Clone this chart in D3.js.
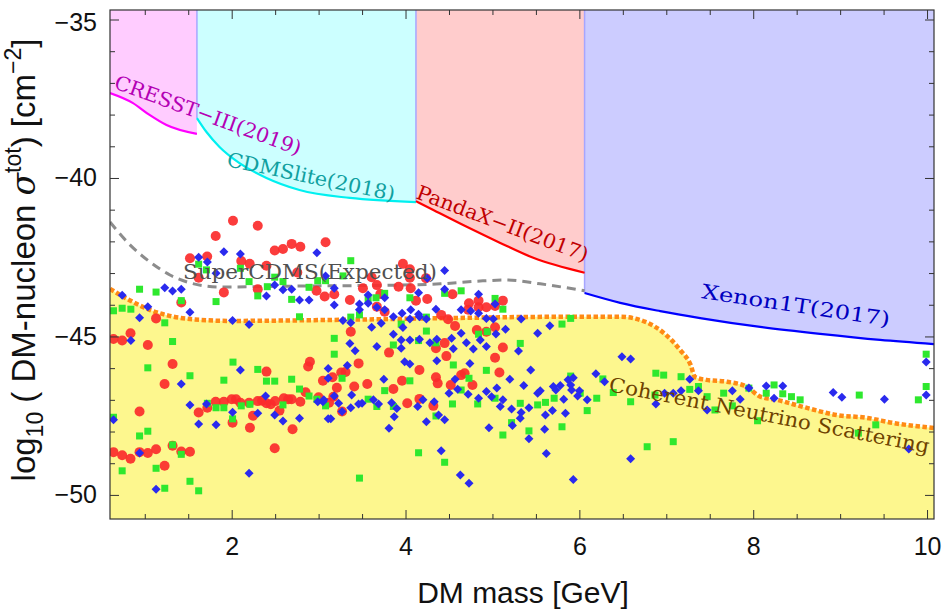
<!DOCTYPE html>
<html>
<head>
<meta charset="utf-8" />
<script src="https://cdn.jsdelivr.net/npm/d3@7"></script>
<style>
  body { margin: 0; background: #fff; }
  .tick text { font-family: "Liberation Sans", Arial, sans-serif; font-size: 25px; fill: #111; }
  .tick line { stroke: #333; }
  .note { font-family: "DejaVu Serif", serif; font-size: 20px; }
</style>
</head>
<body>
<svg id="chart" width="946" height="613"></svg>
<script>
// ---- data ----
var cresstX = [0.6, 0.86, 1.055, 1.25, 1.6];
var cresstY = [-37.32, -37.63, -38.01, -38.33, -38.61];
var cdmsliteX = [1.6, 1.71, 1.86, 2.09, 2.40, 2.78, 3.36, 4.12];
var cdmsliteY = [-38.11, -38.55, -39.02, -39.53, -40.0, -40.38, -40.63, -40.76];
var pandaX = [4.12, 4.32, 4.71, 5.09, 5.47, 6.06];
var pandaY = [-40.73, -41.01, -41.55, -42.05, -42.52, -42.99];
var xenonX = [6.06, 6.47, 6.93, 7.39, 8.08, 8.77, 9.46, 10.08];
var xenonY = [-43.63, -43.94, -44.20, -44.42, -44.70, -44.92, -45.11, -45.24];
var superX = [0.6, 0.83, 1.06, 1.29, 1.52, 1.86, 2.78, 3.94, 4.40, 4.86, 5.17, 5.55, 6.06];
var superY = [-41.39, -42.11, -42.65, -43.06, -43.31, -43.44, -43.41, -43.38, -43.34, -43.25, -43.22, -43.34, -43.56];
var nuX = [0.6, 0.82, 1.055, 1.285, 1.52, 1.98, 3.13, 4.51, 5.78, 6.47, 6.76, 6.97, 7.16, 7.28, 7.33, 7.46, 7.70, 7.93, 8.08, 8.27, 8.57, 8.96, 9.31, 9.61, 10.08];
var nuY = [-43.50, -43.85, -44.16, -44.35, -44.45, -44.51, -44.48, -44.42, -44.38, -44.38, -44.54, -44.89, -45.43, -45.90, -46.28, -46.37, -46.43, -46.59, -46.90, -47.0, -47.22, -47.48, -47.57, -47.73, -47.89];

var redPts = [
 [2.015,-41.35],[2.30,-41.51],[1.816,-41.83],[1.52,-42.53],[1.718,-42.48],[2.11,-42.62],[2.207,-42.71],[2.40,-42.77],
 [2.495,-42.29],[2.59,-42.24],[2.69,-42.08],[2.79,-42.17],[3.08,-42.03],[1.62,-43.15],[1.91,-43.61],[2.30,-43.51],
 [2.755,-42.98],[2.976,-43.56],[3.07,-43.74],[1.42,-43.93],[1.13,-44.43],[0.836,-44.90],[0.64,-45.08],[0.74,-45.13],
 [1.035,-45.27],[1.32,-45.87],[2.90,-45.80],[2.88,-45.95],[2.40,-46.11],[1.228,-46.50],[3.05,-46.40],[0.94,-47.37],
 [2.85,-46.76],[3.00,-46.92],[1.62,-47.40],[1.72,-47.25],[1.816,-47.06],[1.91,-47.06],[2.00,-46.98],[2.05,-46.98],
 [2.10,-47.09],[2.20,-47.09],[2.30,-47.04],[2.35,-47.03],[2.40,-47.11],[2.45,-47.14],[2.50,-47.04],[2.60,-46.95],
 [2.65,-46.98],[2.69,-46.98],[2.79,-47.06],[2.55,-47.34],[2.245,-47.50],[2.01,-47.72],[2.21,-47.88],[2.70,-47.93],
 [2.495,-48.53],[0.64,-48.65],[0.74,-48.75],[0.836,-48.86],[0.94,-48.65],[1.035,-48.68],[1.13,-48.56],[1.32,-48.45],
 [1.42,-48.63],[1.52,-48.64],[1.228,-49.08],[3.12,-47.09],[3.97,-42.71],[4.05,-42.88],[3.61,-43.13],[4.05,-43.15],
 [3.92,-43.43],[4.06,-43.48],[3.18,-43.67],[3.51,-43.48],[3.67,-43.38],[3.36,-43.85],[3.71,-43.66],[4.12,-43.87],
 [4.25,-43.82],[4.54,-43.67],[4.235,-43.16],[3.67,-44.06],[3.76,-44.22],[4.73,-43.95],[4.84,-43.87],[4.84,-44.08],
 [4.93,-44.08],[5.03,-44.04],[5.12,-43.87],[4.72,-44.16],[4.41,-44.32],[4.49,-44.46],[4.57,-44.67],[3.37,-44.85],
 [4.93,-44.85],[5.03,-44.71],[4.82,-44.80],[4.45,-45.21],[4.35,-45.37],[3.81,-45.51],[4.47,-45.62],[5.12,-45.35],
 [5.03,-45.67],[3.46,-45.85],[3.16,-46.29],[3.26,-46.14],[3.31,-46.12],[3.21,-46.62],[3.41,-46.58],[3.56,-46.50],
 [3.86,-46.66],[3.96,-46.40],[4.16,-46.06],[4.35,-46.29],[4.37,-46.48],[4.52,-46.53],[4.64,-46.22],[4.68,-46.16],
 [4.77,-46.53],[5.08,-46.14],[4.02,-47.11],[4.16,-46.97],[4.32,-47.19],[3.27,-47.37],[3.17,-46.90]
];
var greenPts = [
 [1.62,-42.72],[1.71,-42.90],[2.10,-42.85],[2.20,-43.27],[2.495,-43.13],[2.59,-43.27],[2.99,-43.24],[3.08,-43.24],
 [0.94,-43.51],[1.13,-43.60],[1.42,-43.87],[1.82,-43.90],[2.30,-43.72],[2.41,-43.43],[2.69,-43.83],[2.89,-43.45],
 [2.78,-44.38],[0.64,-44.19],[0.74,-44.11],[0.84,-44.14],[1.23,-44.57],[1.32,-45.16],[2.015,-45.81],[1.035,-45.99],
 [2.30,-46.04],[1.52,-46.24],[1.91,-46.38],[2.40,-46.41],[2.495,-46.41],[2.69,-46.35],[2.78,-46.66],[2.89,-46.88],
 [2.98,-46.98],[3.08,-47.19],[1.72,-47.11],[1.82,-47.25],[1.91,-47.25],[2.11,-47.19],[2.21,-47.14],[2.01,-47.60],
 [2.59,-47.16],[0.64,-47.55],[0.94,-48.14],[1.035,-47.99],[1.32,-48.42],[1.42,-48.72],[0.74,-49.24],[1.13,-49.16],
 [1.23,-49.79],[1.52,-49.57],[1.62,-49.87],[3.37,-42.61],[3.28,-43.09],[3.76,-43.64],[4.05,-43.78],[4.45,-43.64],
 [4.64,-43.56],[5.03,-43.80],[5.12,-44.14],[3.57,-43.83],[3.66,-43.78],[3.47,-44.32],[3.37,-44.39],[3.95,-44.61],
 [4.24,-44.39],[4.24,-44.83],[3.18,-45.06],[3.18,-45.56],[3.86,-45.27],[4.15,-45.13],[4.35,-45.20],[4.55,-45.90],
 [4.84,-44.93],[4.94,-44.85],[5.32,-45.22],[5.80,-44.61],[4.93,-46.07],[3.27,-46.32],[3.76,-46.71],[4.05,-46.40],
 [4.73,-46.32],[4.64,-46.69],[4.54,-47.13],[3.57,-46.98],[3.67,-47.21],[3.86,-47.21],[4.83,-47.13],[5.03,-46.95],
 [5.32,-47.11],[5.52,-47.16],[5.61,-47.08],[5.71,-46.95],[5.90,-46.25],[6.01,-46.79],[6.09,-47.34],[4.35,-47.51],
 [5.22,-47.72],[5.42,-47.98],[5.12,-48.11],[5.80,-47.85],[4.15,-48.67],[4.45,-48.97],[3.47,-49.47],[6.20,-46.95],
 [6.39,-46.77],[6.59,-47.06],[6.78,-48.48],[7.08,-48.32],[5.90,-44.43],[6.27,-46.34],[6.88,-46.16],[6.97,-46.22],
 [6.87,-46.85],[7.17,-46.27],[7.27,-46.67],[7.37,-46.58],[7.47,-46.90],[7.56,-47.32],[7.66,-46.79],[7.76,-47.19],
 [7.95,-46.63],[8.05,-47.66],[8.15,-46.79],[8.24,-46.53],[8.34,-46.81],[8.44,-46.90],[8.54,-47.00],[9.22,-46.85],
 [9.21,-48.05],[9.41,-47.79],[9.90,-47.00],[9.99,-46.58],[9.99,-45.56]
];
var bluePts = [
 [1.62,-42.50],[1.72,-42.65],[1.91,-42.33],[2.10,-42.40],[2.98,-42.36],[1.82,-43.01],[1.23,-43.46],[1.32,-43.57],
 [1.42,-43.51],[0.74,-43.70],[1.035,-44.06],[0.94,-44.41],[1.52,-44.24],[2.01,-44.50],[2.20,-44.62],[2.40,-43.72],
 [2.495,-43.38],[2.59,-43.53],[2.69,-43.51],[2.78,-43.85],[2.89,-43.85],[3.08,-43.09],[0.84,-45.13],[2.10,-46.06],
 [3.11,-46.01],[1.42,-46.50],[1.52,-47.16],[1.71,-47.13],[2.01,-47.39],[2.39,-46.88],[2.30,-47.42],[1.62,-47.76],
 [1.82,-47.79],[2.495,-47.48],[2.59,-47.67],[2.78,-47.58],[2.99,-47.06],[3.05,-47.06],[3.11,-46.32],[0.64,-47.63],
 [0.94,-48.68],[2.20,-49.32],[1.13,-49.82],[3.11,-47.60],[4.45,-42.92],[4.25,-43.16],[3.18,-43.48],[3.18,-44.01],
 [3.57,-43.69],[3.76,-43.78],[4.15,-43.62],[4.45,-43.51],[4.84,-43.67],[5.03,-43.98],[3.47,-43.98],[3.57,-43.95],
 [3.67,-44.08],[3.76,-44.16],[3.47,-44.16],[3.86,-44.38],[3.96,-44.27],[4.06,-44.16],[4.15,-44.30],[4.35,-44.14],
 [4.64,-44.16],[4.75,-44.20],[4.84,-44.27],[4.93,-44.43],[4.16,-44.38],[3.28,-44.50],[3.37,-44.57],[3.61,-44.71],
 [3.72,-44.58],[3.97,-44.72],[4.05,-44.45],[4.24,-44.45],[5.01,-44.45],[5.04,-44.92],[5.15,-44.77],[5.33,-44.45],
 [5.66,-44.66],[5.52,-44.90],[4.64,-44.90],[4.53,-45.06],[3.86,-44.93],[3.95,-45.11],[4.05,-45.11],[4.16,-45.09],
 [4.28,-45.20],[4.36,-45.09],[4.86,-45.11],[4.70,-45.20],[3.36,-45.22],[3.42,-45.45],[3.67,-45.32],[3.95,-45.37],
 [4.55,-45.39],[4.78,-45.40],[4.93,-45.32],[5.30,-45.46],[4.36,-45.77],[3.99,-45.80],[4.05,-45.87],[3.33,-45.92],
 [4.74,-45.85],[5.44,-46.06],[3.75,-46.35],[4.57,-46.35],[4.60,-46.67],[4.72,-46.82],[4.50,-46.79],[5.20,-46.35],
 [5.36,-46.55],[5.05,-46.63],[4.93,-46.74],[4.99,-46.90],[5.12,-47.00],[5.09,-47.21],[4.84,-46.95],[5.22,-47.29],
 [5.33,-47.40],[5.42,-47.25],[5.32,-47.58],[5.23,-47.81],[4.96,-47.88],[5.52,-46.79],[5.55,-46.71],[5.70,-46.58],
 [5.73,-46.69],[5.78,-46.55],[5.87,-46.37],[5.90,-46.53],[5.91,-46.69],[6.00,-46.71],[5.98,-46.88],[6.09,-47.00],
 [5.82,-46.98],[5.69,-47.34],[5.61,-47.48],[5.84,-47.42],[5.60,-47.93],[5.42,-48.23],[5.62,-48.69],[5.93,-49.51],
 [4.73,-49.63],[4.63,-49.37],[4.41,-48.61],[3.81,-47.90],[4.24,-47.69],[4.45,-47.63],[4.38,-47.48],[3.87,-47.53],
 [3.90,-47.27],[3.84,-47.09],[3.69,-47.13],[3.63,-47.00],[3.50,-47.11],[3.46,-47.13],[3.37,-47.25],[3.23,-47.11],
 [3.18,-46.88],[3.06,-47.00],[3.27,-47.37],[3.14,-47.60],[3.38,-46.85],[4.14,-47.21],[4.20,-47.00],[4.33,-47.06],
 [6.49,-45.64],[6.59,-45.71],[6.19,-46.18],[6.29,-46.43],[5.93,-46.30],[6.88,-47.13],[6.59,-48.86],[6.98,-46.79],
 [7.08,-46.79],[7.17,-46.71],[7.27,-46.35],[7.37,-46.71],[7.47,-47.32],[7.76,-46.71],[7.85,-46.98],[7.95,-46.63],
 [8.15,-46.56],[8.24,-46.95],[8.34,-46.56],[8.92,-46.77],[9.02,-46.92],[9.51,-46.98],[9.99,-45.81],[9.99,-46.85],
 [9.79,-48.55]
];

var xMajor = [2, 4, 6, 8, 10];
var yMajor = [-50, -45, -40, -35];
var labels = ["CRESST\u2212III(2019)", "CDMSlite(2018)", "PandaX\u2212II(2017)", "SuperCDMS(Expected)", "Xenon1T(2017)", "Coherent Neutrino Scattering"];

// ---- layout ----
var svg = d3.select("#chart");
var L = 110, R = 934, T = 10, B = 519;
var x = d3.scaleLinear().domain([0.6, 10.08]).range([L, R]);
var y = d3.scaleLinear().domain([-50.76, -34.7]).range([B, T]);

function zip(xs, ys) { return xs.map(function(v, i) { return [v, ys[i]]; }); }

svg.append("clipPath").attr("id", "plotclip")
  .append("rect").attr("x", L).attr("y", T).attr("width", R - L).attr("height", B - T);
var plot = svg.append("g").attr("clip-path", "url(#plotclip)");

var bands = [
  { pts: zip(cresstX, cresstY), fill: "#ffccff", line: "#ff00ff" },
  { pts: zip(cdmsliteX, cdmsliteY), fill: "#ccffff", line: "#00f0f0" },
  { pts: zip(pandaX, pandaY), fill: "#ffcccc", line: "#ff0000" },
  { pts: zip(xenonX, xenonY), fill: "#ccccff", line: "#0000ff" }
];

var bandArea = d3.area().curve(d3.curveMonotoneX)
  .x(function(d) { return x(d[0]); })
  .y0(y(-34.7)).y1(function(d) { return y(d[1]); });
var curveLine = d3.line().curve(d3.curveMonotoneX)
  .x(function(d) { return x(d[0]); }).y(function(d) { return y(d[1]); });

bands.forEach(function(b) {
  plot.append("path").attr("d", bandArea(b.pts)).attr("fill", b.fill);
});
// edges of the fills
bands.slice(1).forEach(function(b) {
  plot.append("line")
    .attr("x1", x(b.pts[0][0])).attr("x2", x(b.pts[0][0]))
    .attr("y1", T).attr("y2", y(b.pts[0][1]))
    .attr("stroke", "#a6a6ff").attr("stroke-width", 1.5);
});

// neutrino floor fill
var nuPts = zip(nuX, nuY);
plot.append("path")
  .attr("d", d3.area().curve(d3.curveMonotoneX)
    .x(function(d) { return x(d[0]); }).y0(B).y1(function(d) { return y(d[1]); })(nuPts))
  .attr("fill", "#fdf78e");

bands.forEach(function(b) {
  plot.append("path").attr("d", curveLine(b.pts))
    .attr("fill", "none").attr("stroke", b.line).attr("stroke-width", 2.2);
});

plot.append("path").attr("d", curveLine(zip(superX, superY)))
  .attr("fill", "none").attr("stroke", "#8c8c8c").attr("stroke-width", 3)
  .attr("stroke-dasharray", "9,6");

plot.append("path").attr("d", curveLine(nuPts))
  .attr("fill", "none").attr("stroke", "#ff8a14").attr("stroke-width", 4.5)
  .attr("stroke-dasharray", "4.5,2.5");

// scatter points
plot.selectAll(".red").data(redPts).enter().append("circle")
  .attr("class", "red")
  .attr("cx", function(d) { return x(d[0]); }).attr("cy", function(d) { return y(d[1]); })
  .attr("r", 5).attr("fill", "#fb2b2b").attr("fill-opacity", 0.92);

plot.selectAll(".green").data(greenPts).enter().append("rect")
  .attr("class", "green")
  .attr("x", function(d) { return x(d[0]) - 3.5; }).attr("y", function(d) { return y(d[1]) - 3.5; })
  .attr("width", 7).attr("height", 7).attr("fill", "#2ee82e");

var diamond = { draw: function(ctx, size) { var r = Math.sqrt(size) / 2;
  ctx.moveTo(0, -r); ctx.lineTo(r, 0); ctx.lineTo(0, r); ctx.lineTo(-r, 0); ctx.closePath(); } };
plot.selectAll(".blue").data(bluePts).enter().append("path")
  .attr("class", "blue")
  .attr("transform", function(d) { return "translate(" + x(d[0]) + "," + y(d[1]) + ")"; })
  .attr("d", d3.symbol().type(diamond).size(81))
  .attr("fill", "#2a2aee");

// annotations: [label, x, y, angle, colour, length]
var notes = [
  [labels[0], 0.635, -37.16, 20, "#b400b4", 197],
  [labels[1], 1.935, -39.62, 11.8, "#10a0a0", 171],
  [labels[2], 4.109, -40.63, 20.6, "#c00000", 182],
  [labels[3], 1.44, -43.19, 0, "#505050", 254],
  [labels[4], 7.40, -43.79, 8.5, "#0000c0", 190],
  [labels[5], 6.33, -46.72, 11, "#6e4200", 326]
];
svg.selectAll(".note").data(notes).enter().append("text")
  .attr("class", "note")
  .attr("transform", function(d) { return "translate(" + x(d[1]) + "," + y(d[2]) + ") rotate(" + d[3] + ")"; })
  .attr("fill", function(d) { return d[4]; })
  .attr("textLength", function(d) { return d[5]; })
  .attr("lengthAdjust", "spacingAndGlyphs")
  .text(function(d) { return d[0]; });

// ---- axes / frame ----
function minorTicks(lo, hi, step) { var a = []; for (var v = lo; v <= hi + 1e-9; v += step) a.push(+v.toFixed(2)); return a; }
var xMinor = minorTicks(1.0, 10, 0.5).filter(function(v) { return xMajor.indexOf(v) < 0; });
var yMinor = minorTicks(-50, -35, 1).filter(function(v) { return yMajor.indexOf(v) < 0; });

function axisG(axis, tx, ty) {
  var g = svg.append("g").attr("transform", "translate(" + tx + "," + ty + ")").call(axis);
  g.select(".domain").remove();
  return g;
}
axisG(d3.axisBottom(x).tickValues(xMajor).tickSizeInner(-9).tickSizeOuter(0).tickPadding(18).tickFormat(d3.format("d")), 0, B);
axisG(d3.axisBottom(x).tickValues(xMinor).tickSizeInner(-5).tickFormat(""), 0, B);
axisG(d3.axisTop(x).tickValues(xMajor).tickSizeInner(-9).tickFormat(""), 0, T);
axisG(d3.axisTop(x).tickValues(xMinor).tickSizeInner(-5).tickFormat(""), 0, T);
var yAx = axisG(d3.axisLeft(y).tickValues(yMajor).tickSizeInner(-9).tickPadding(13).tickFormat(d3.format("d")), L, 0);
axisG(d3.axisLeft(y).tickValues(yMinor).tickSizeInner(-5).tickFormat(""), L, 0);
axisG(d3.axisRight(y).tickValues(yMajor).tickSizeInner(-9).tickFormat(""), R, 0);
axisG(d3.axisRight(y).tickValues(yMinor).tickSizeInner(-5).tickFormat(""), R, 0);
svg.selectAll(".tick text").attr("text-anchor", null);
svg.selectAll(".tick line").attr("stroke", "#333");
// top label sits a little lower, clear of the page edge
yAx.selectAll(".tick text").filter(function(d) { return d === -35; }).attr("dy", "0.45em");

svg.append("rect").attr("x", L).attr("y", T).attr("width", R - L).attr("height", B - T)
  .attr("fill", "none").attr("stroke", "#333").attr("stroke-width", 1.2);

svg.append("text")
  .attr("x", (L + R) / 2 + 1).attr("y", 603)
  .attr("text-anchor", "middle")
  .style("font-family", "Liberation Sans, Arial, sans-serif").style("font-size", "30px").style("fill", "#111")
  .text("DM mass [GeV]");

var yt = svg.append("text")
  .attr("transform", "translate(35," + 260 + ") rotate(-90)")
  .attr("text-anchor", "middle")
  .style("font-family", "Liberation Sans, Arial, sans-serif").style("font-size", "33px").style("fill", "#111");
yt.append("tspan").text("log");
yt.append("tspan").attr("dy", 8).style("font-size", "23px").text("10");
yt.append("tspan").attr("dy", -8).text(" ( DM-nucleon ");
yt.append("tspan").style("font-style", "italic").style("font-family", "DejaVu Serif, serif").text("\u03c3");
yt.append("tspan").attr("dy", -14).style("font-size", "23px").text("tot");
yt.append("tspan").attr("dy", 14).text(") [cm");
yt.append("tspan").attr("dy", -14).style("font-size", "23px").text("\u22122");
yt.append("tspan").attr("dy", 14).text("]");
</script>
</body>
</html>
